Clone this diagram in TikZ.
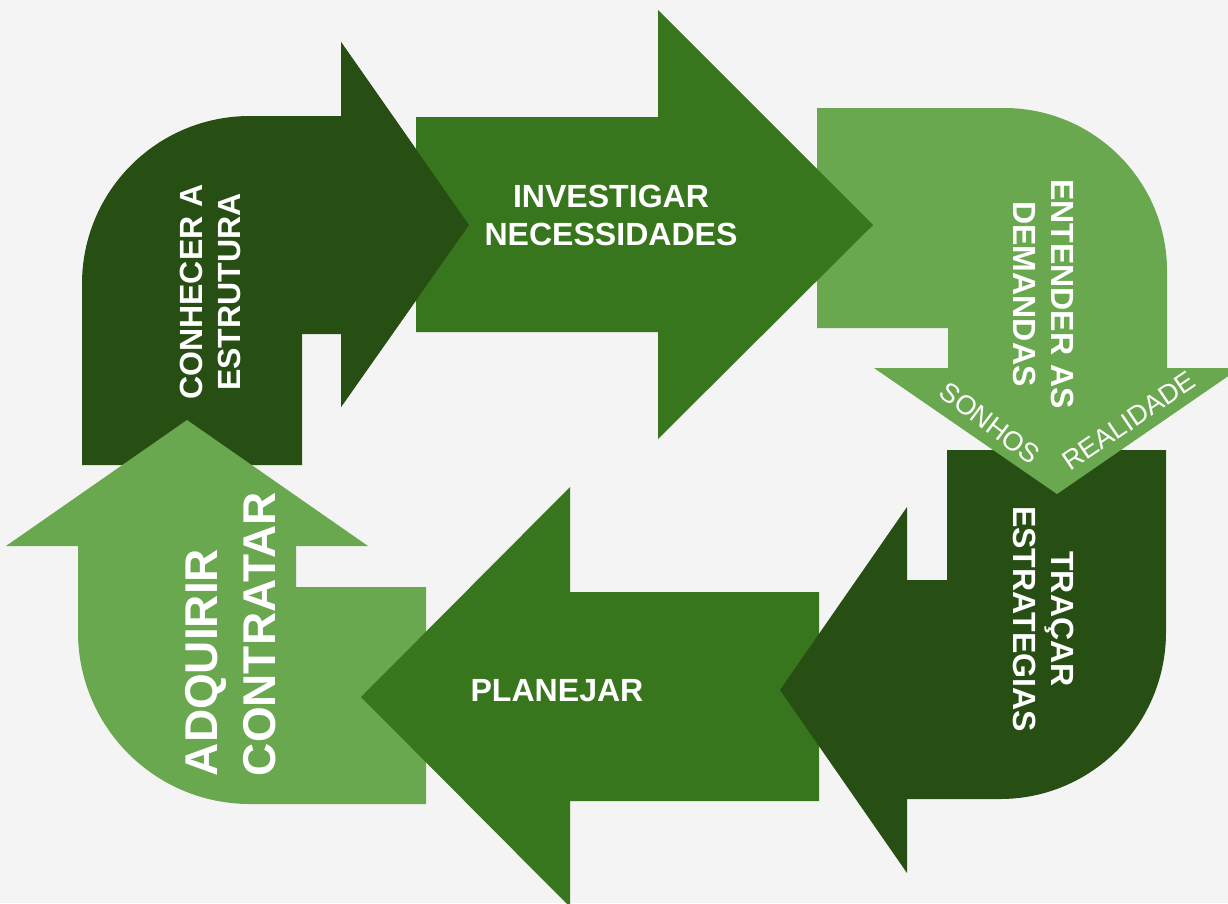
\documentclass[tikz,border=0pt]{standalone}
\usepackage{fontspec}
\setmainfont{Liberation Sans}
\definecolor{bgGray}{HTML}{F4F4F4}
\definecolor{greenDark}{HTML}{274E13}
\definecolor{greenMid}{HTML}{38761D}
\definecolor{greenLight}{HTML}{6AA84F}

\begin{document}
\begin{tikzpicture}[x=0.025cm, y=-0.025cm,
		stepLabel/.style={text=white, inner sep=0pt, align=center, font=\bfseries\fontsize{22.8}{27}\selectfont},
		bigLabel/.style={text=white, inner sep=0pt, align=left, font=\bfseries\fontsize{32.7}{41.3}\selectfont},
		sideLabel/.style={text=white, inner sep=0pt, font=\fontsize{19.2}{23}\selectfont}]
		%%%%% START %%%%%
		
		\useasboundingbox[fill=bgGray] (0, 0) rectangle (1228, 903);
		
		% conhecer (under everything, head drawn again at the end)
		\fill[greenDark] (82, 465) -- (82, 284) .. controls (82, 191) and (157, 116) .. (250, 116) -- (341, 116) -- (341, 42) -- (469, 225) -- (341, 407) -- (341, 334) -- (302, 334) -- (302, 465) -- cycle;
		
		% adquirir
		\fill[greenLight] (426, 804) -- (250, 804) .. controls (155, 804) and (78, 727) .. (78, 632) -- (78, 546) -- (6, 546) -- (187, 420) -- (368, 546) -- (296, 546) -- (296, 587) -- (426, 587) -- cycle;
		
		% planejar
		\fill[greenMid] (819, 592) -- (570, 592) -- (570, 487) -- (361, 697) -- (570, 907) -- (570, 801) -- (819, 801) -- cycle;
		
		% tracar
		\fill[greenDark] (947, 450) -- (1166, 450) -- (1166, 632) .. controls (1166, 724) and (1092, 799) .. (1000, 799) -- (907, 799) -- (907, 873) -- (780, 690) -- (907, 507) -- (907, 580) -- (947, 580) -- cycle;
		
		% entender
		\fill[greenLight] (817, 108) -- (1004, 108) .. controls (1094, 108) and (1167, 181) .. (1167, 271) -- (1167, 368) -- (1240, 368) -- (1057, 494) -- (874, 368) -- (948, 368) -- (948, 328) -- (817, 328) -- cycle;
		
		% investigar
		\fill[greenMid] (416, 117) -- (658, 117) -- (658, 10) -- (873, 225) -- (658, 439) -- (658, 332) -- (416, 332) -- cycle;
		
		\fill[greenDark] (341, 42) -- (469, 225) -- (341, 407) -- cycle;
		
		\node[stepLabel, rotate=90] (conhecer) at (210, 292) {CONHECER A\\ESTRUTURA};
		\node[stepLabel] (investigar) at (611, 215) {INVESTIGAR\\NECESSIDADES};
		\node[stepLabel, rotate=-90] (entender) at (1044, 294) {ENTENDER AS\\DEMANDAS};
		\node[stepLabel, rotate=-90] (tracar) at (1044, 619) {TRAÇAR\\ESTRATEGIAS};
		\node[stepLabel] (planejar) at (557, 691) {PLANEJAR};
		\node[bigLabel, rotate=90] (adquirir) at (231, 634) {ADQUIRIR\\CONTRATAR};
		
		\node[sideLabel, rotate=-37] (sonhos) at (990, 423) {SONHOS};
		\node[sideLabel, rotate=34] (realidade) at (1129, 421) {REALIDADE};
		
		%%%%% END %%%%%
\end{tikzpicture}
\end{document}
